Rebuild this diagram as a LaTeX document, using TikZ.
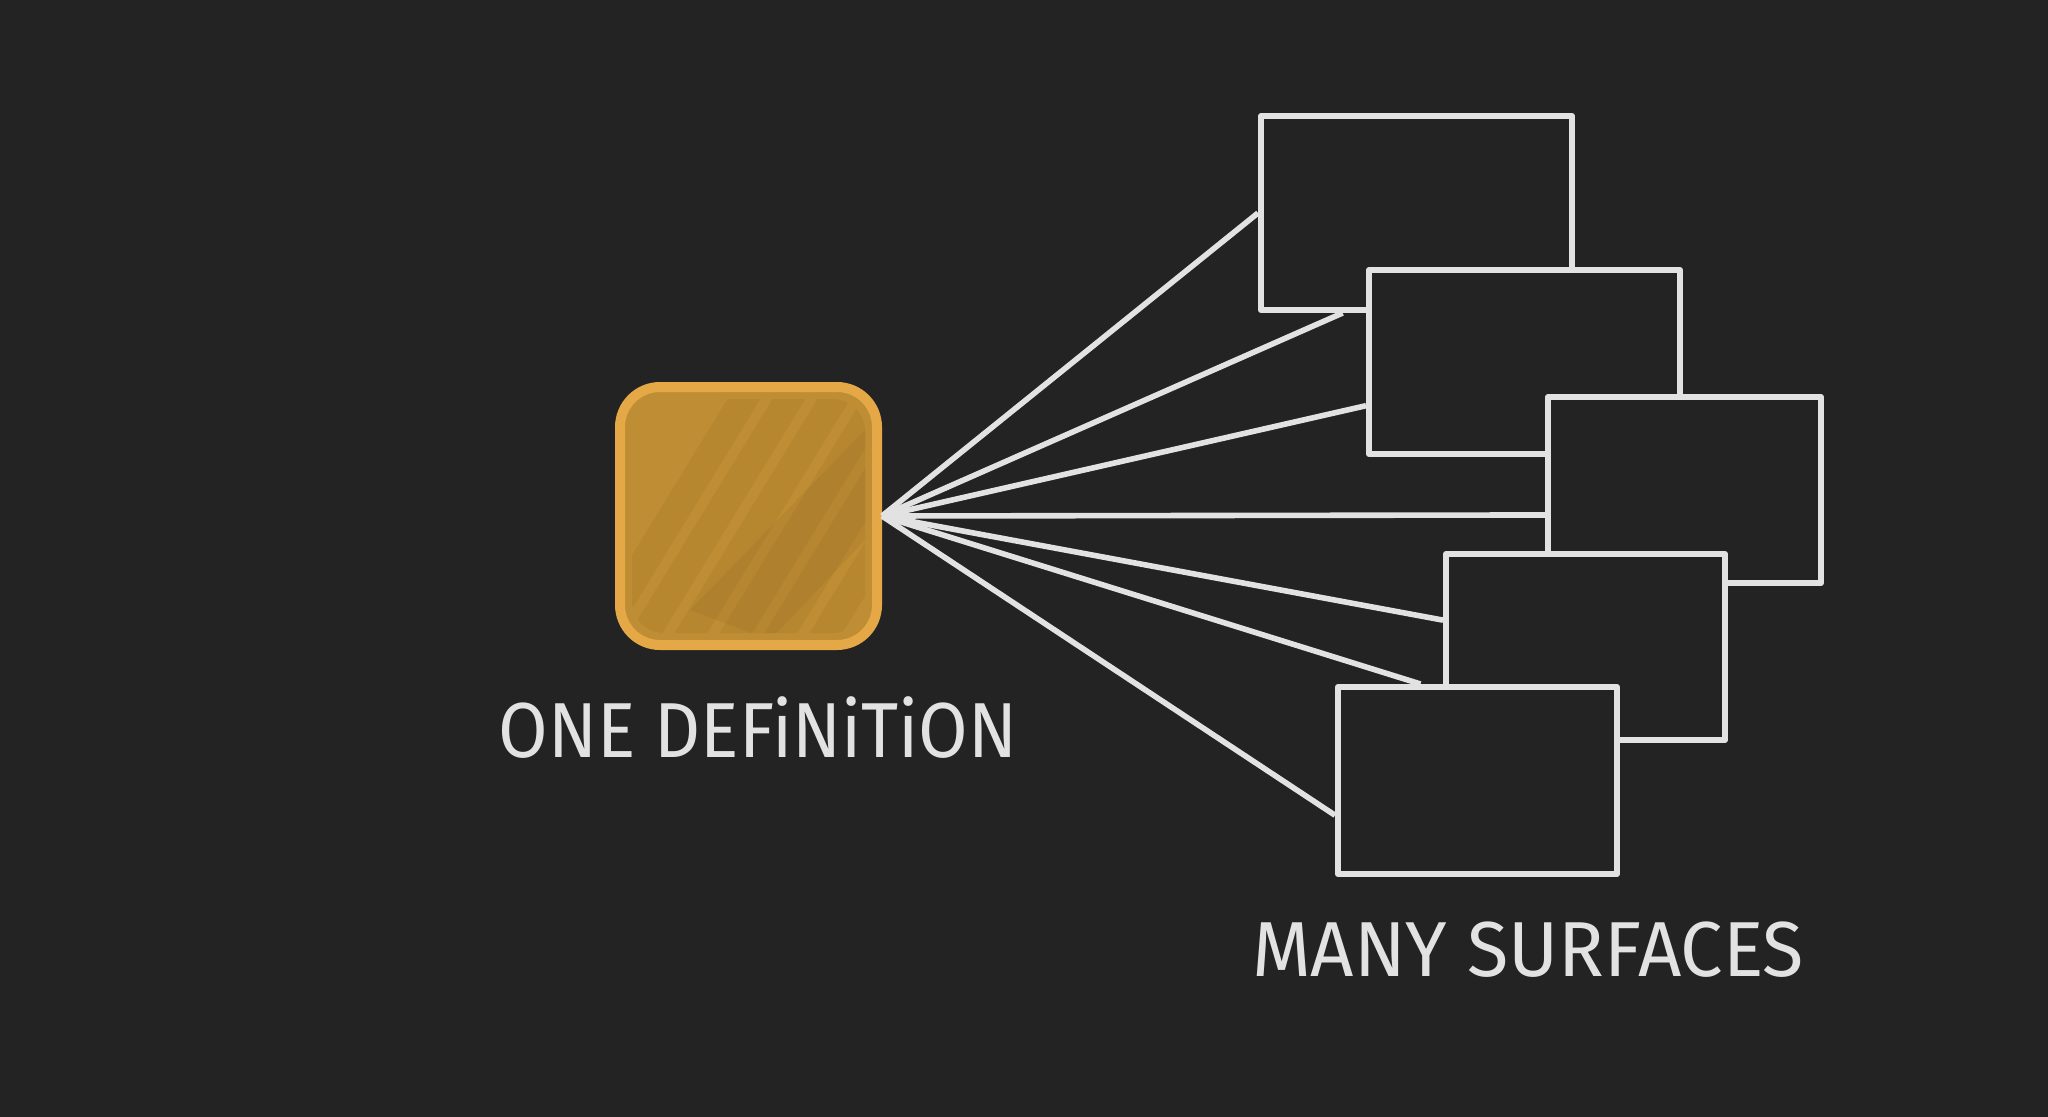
\documentclass[tikz,border=0pt]{standalone}
\usepackage{fontspec}
\setmainfont{Fira Sans}
\usetikzlibrary{calc}
\definecolor{board}{HTML}{232323}
\definecolor{chalk}{HTML}{E2E2E2}
\definecolor{gold}{HTML}{BF8D33}
\definecolor{golddark}{HTML}{8F6A26}
\definecolor{goldedge}{HTML}{E4A846}
\begin{document}
\begin{tikzpicture}[x=0.5pt,y=-0.5pt,
  surf/.style={draw=chalk, line width=3pt, fill=board, anchor=north west, inner sep=0pt, line join=round},
  link/.style={draw=chalk, line width=2.8pt},
  defbox/.style={draw=goldedge, line width=5pt, fill=gold, rounded corners=20pt, inner sep=0pt},
  chalktext/.style={text=chalk, font=\fontsize{39}{44}\selectfont, inner sep=0pt}]
% board
\fill[board] (0,0) rectangle (2048,1117);
\useasboundingbox (0,0) rectangle (2048,1117);
% one definition
\node[defbox, minimum width=128.5pt, minimum height=129pt] (def) at (748.5,516) {};
\begin{scope}
  \clip[rounded corners=16pt] (632,399) rectangle (865,633);
  \foreach \d in {0,45,...,315}{
    \draw[golddark, opacity=0.16, line width=14pt, line cap=round] (560+\d,700) -- (780+\d,340);
  }
  \fill[golddark, opacity=0.18] (690,610) -- (865,430) -- (865,540) -- (770,640) -- cycle;
\end{scope}
\node[chalktext] (one) at (758,728) {\scalebox{0.92}[1]{ONE DEFiNiTiON}};
% surfaces
\node[surf, minimum width=155.5pt, minimum height=97pt] (s1) at (1258,113) {};
\node[surf, minimum width=155.5pt, minimum height=92pt] (s2) at (1366,267) {};
\node[surf, minimum width=136.5pt, minimum height=93pt] (s3) at (1545,394) {};
\node[surf, minimum width=139.5pt, minimum height=93pt] (s4) at (1443,551) {};
\node[surf, minimum width=139.5pt, minimum height=93.5pt] (s5) at (1335,684) {};
\node[chalktext] (many) at (1528,950) {\scalebox{0.97}[1]{MANY SURFACES}};
% connectors
\draw[link] (def.east) -- (s1.west);
\draw[link] (def.east) -- ($(s1.south west)!0.267!(s1.south east)$);
\draw[link] (def.east) -- ($(s2.north west)!0.73!(s2.south west)$);
\draw[link] (def.east) -- ($(s3.north west)!0.63!(s3.south west)$);
\draw[link] (def.east) -- ($(s4.north west)!0.36!(s4.south west)$);
\draw[link] (def.east) -- ($(s5.north west)!0.30!(s5.north east)$);
\draw[link] (def.east) -- ($(s5.north west)!0.68!(s5.south west)$);
\end{tikzpicture}
\end{document}
